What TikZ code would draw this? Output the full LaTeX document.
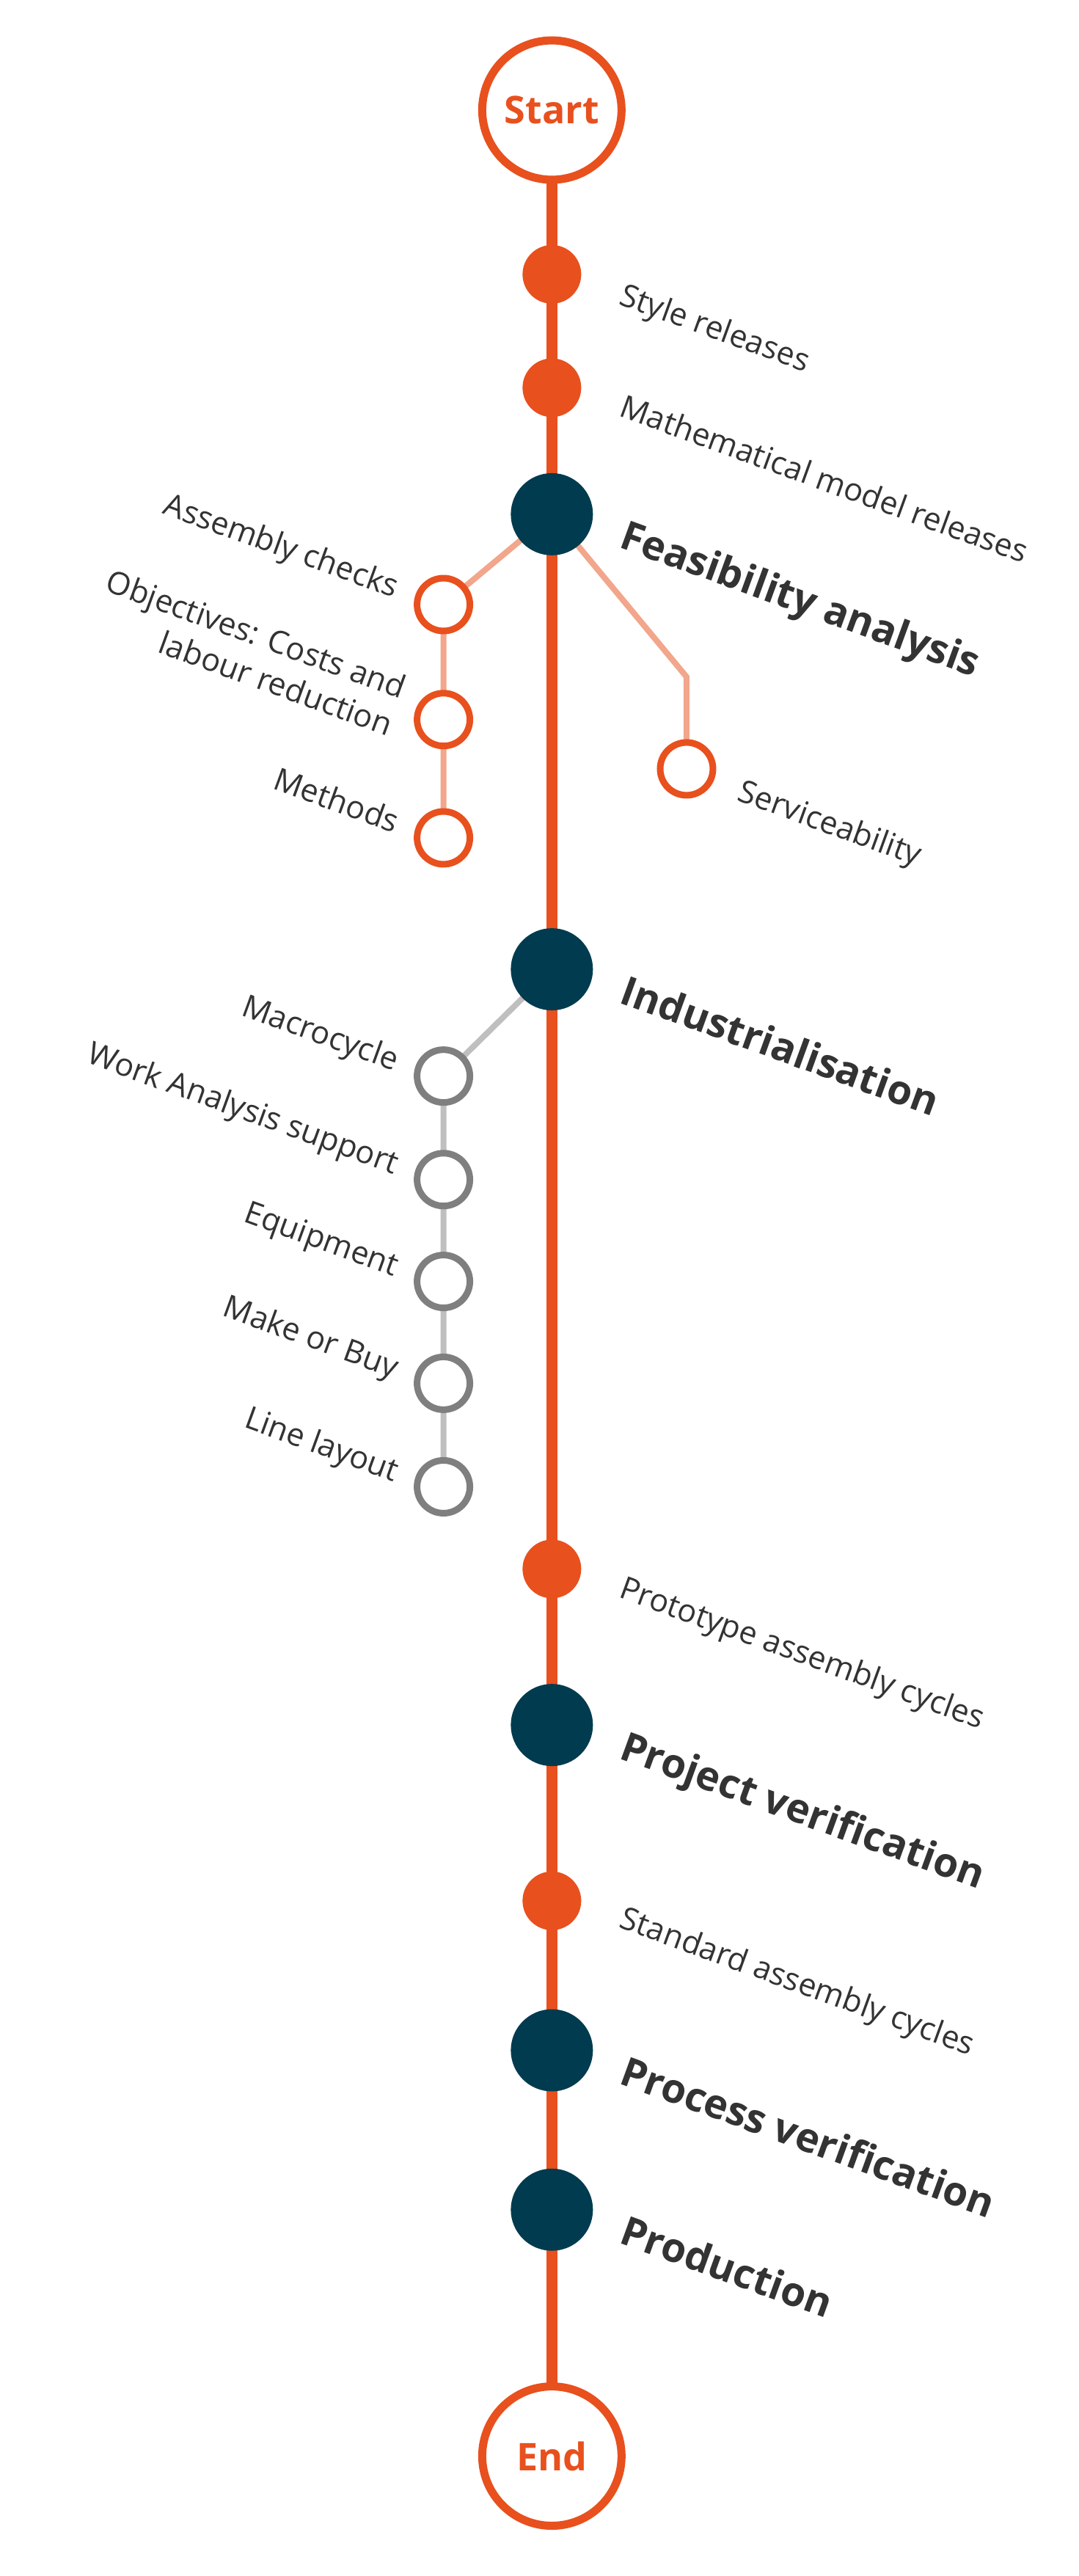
\documentclass[tikz,border=0pt]{standalone}
\usepackage{fontspec}
\setmainfont{Open Sans}
\usetikzlibrary{positioning}
\definecolor{orng}{HTML}{E8501E}
\definecolor{navy}{HTML}{003B4F}
\definecolor{txt}{HTML}{333333}
\definecolor{greyc}{HTML}{7F7F7F}
\definecolor{lorng}{HTML}{F2A68B}
\definecolor{lgrey}{HTML}{BFBFBF}
\tikzset{
    endpt/.style={circle,draw=orng,line width=5.5pt,fill=white,minimum size=95pt,
        text=orng,font=\bfseries\fontsize{26}{30}\selectfont},
    release/.style={circle,fill=orng,minimum size=40pt,inner sep=0pt},
    phase/.style={circle,fill=navy,minimum size=56pt,inner sep=0pt},
    subo/.style={circle,draw=orng,line width=4.5pt,fill=white,minimum size=36pt,inner sep=0pt},
    subg/.style={circle,draw=greyc,line width=4.5pt,fill=white,minimum size=36pt,inner sep=0pt},
    rlab/.style={anchor=base west,rotate=-20,text=txt,inner sep=0pt,font=\fontsize{21.5}{27}\selectfont},
    llab/.style={anchor=base east,rotate=-20,text=txt,inner sep=0pt,align=right,font=\fontsize{21.5}{27}\selectfont},
    blab/.style={anchor=base west,rotate=-20,text=txt,inner sep=0pt,font=\bfseries\fontsize{27.5}{32}\selectfont},
}
\begin{document}
\begin{tikzpicture}[x=1.12pt,y=-1.12pt]
    \useasboundingbox (0,0) rectangle (656.5,1568);
    \coordinate (top) at (336,67);
    \coordinate (bot) at (336,1495);
    \draw[orng,line width=7.5pt] (top) -- (bot);
    % branches
    \coordinate (kneeR) at (418,412);
    \draw[lorng,line width=4pt] (336,313) -- (270,368) -- (270,510);
    \draw[lorng,line width=4pt] (336,313) -- (kneeR) -- (418,468);
    \draw[lgrey,line width=4pt] (336,590) -- (270,655) -- (270,905);
    % main nodes
    \node[endpt] (start) at (top) {Start};
    \node[endpt] (end) at (bot) {End};
    \node[release] (style) at (336,167) {};
    \node[release] (math) at (336,236) {};
    \node[phase] (feas) at (336,313) {};
    \node[phase] (ind) at (336,590) {};
    \node[release] (proto) at (336,955) {};
    \node[phase] (projv) at (336,1050) {};
    \node[release] (stdc) at (336,1157) {};
    \node[phase] (procv) at (336,1248) {};
    \node[phase] (prod) at (336,1345) {};
    % feasibility items
    \node[subo] (asm) at (270,368) {};
    \node[subo] (obj) at (270,438) {};
    \node[subo] (meth) at (270,510) {};
    \node[subo] (serv) at (418,468) {};
    % industrialisation items
    \node[subg] (macro) at (270,655) {};
    \node[subg] (work) at (270,718) {};
    \node[subg] (equip) at (270,780) {};
    \node[subg] (make) at (270,842) {};
    \node[subg] (line) at (270,905) {};
    % labels
    \node[rlab] at (376,185) {Style releases};
    \node[rlab] at (376,253) {Mathematical model releases};
    \node[blab] at (376,333) {Feasibility analysis};
    \node[rlab] at (448,487) {Serviceability};
    \node[blab] at (376,610) {Industrialisation};
    \node[rlab] at (376,972) {Prototype assembly cycles};
    \node[blab] at (376,1070) {Project verification};
    \node[rlab] at (376,1173) {Standard assembly cycles};
    \node[blab] at (376,1268) {Process verification};
    \node[blab] at (376,1365) {Production};
    \node[llab] at (240,364) {Assembly checks};
    \node[llab] at (236,448) {Objectives: Costs and\\labour reduction};
    \node[llab] at (240,507) {Methods};
    \node[llab] at (240,652) {Macrocycle};
    \node[llab] at (240,715) {Work Analysis support};
    \node[llab] at (240,777) {Equipment};
    \node[llab] at (240,839) {Make or Buy};
    \node[llab] at (240,902) {Line layout};
\end{tikzpicture}
\end{document}
